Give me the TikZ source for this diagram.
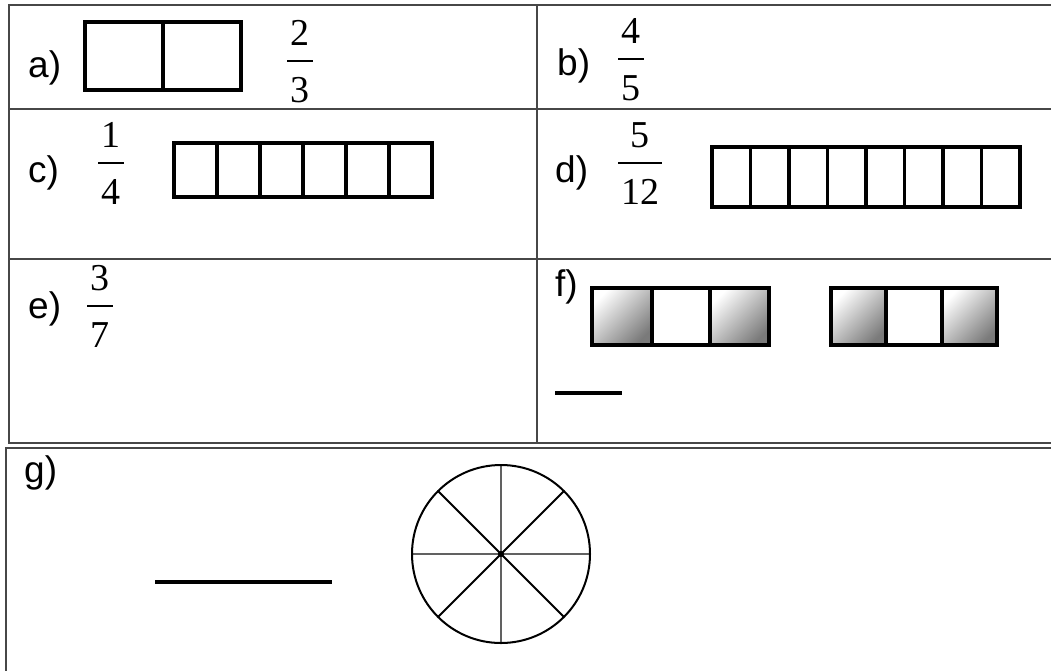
\documentclass[tikz,border=0pt]{standalone}
\usepackage{fontspec}
\setmainfont{Liberation Serif}
\newfontfamily\lblfont{Liberation Sans}
\newcommand\myfrc[6]{%
  \node[dig] (#1n) at (#2,#3-16) {#4};
  \node[dig] (#1d) at (#2,#3+41) {#5};
  \draw[fbar] (#2-#6,#3) -- (#2+#6,#3);}
\begin{document}
\begin{tikzpicture}[x=1pt,y=-1pt,
  lbl/.style={anchor=base west, inner sep=0pt, font=\lblfont\fontsize{37}{40}\selectfont},
  dig/.style={anchor=base, inner sep=0pt, font=\fontsize{38}{42}\selectfont},
  fbar/.style={line width=2pt},
  tabline/.style={draw=black!72, line width=2.2pt},
  cellbox/.style={draw=black, line width=3.2pt},
  shadecell/.style={top color=white, middle color=black!44, bottom color=black!52, shading angle=45},
  blank/.style={line width=3.6pt, line cap=butt},
  spokeg/.style={draw=black!62, line width=2.6pt},
  spokeb/.style={draw=black, line width=2pt}]
\useasboundingbox (0,0) rectangle (1051,670);
\fill[white] (0,0) rectangle (1051,670);
% table frame
\draw[tabline] (1060,5) -- (9,5) -- (9,443) -- (1060,443);
\draw[tabline] (9,109) -- (1060,109);
\draw[tabline] (9,259) -- (1060,259);
\draw[tabline] (537,5) -- (537,443);
\draw[tabline] (1060,448) -- (6,448) -- (6,680);
% a)
\node[lbl] (la) at (28,77) {a)};
\draw[cellbox] (85,22) rectangle (241,90);
\draw[cellbox] (163,22) -- (163,90);
\myfrc{fa}{300}{61}{2}{3}{13}
% b)
\node[lbl] (lb) at (557,75) {b)};
\myfrc{fb}{631}{59}{4}{5}{13}
% c)
\node[lbl] (lc) at (28,182) {c)};
\myfrc{fc}{111}{163}{1}{4}{13}
\draw[cellbox] (174,143) rectangle (432,197);
\foreach \i in {1,...,5} \draw[cellbox] (174+43*\i,143) -- (174+43*\i,197);
% d)
\node[lbl] (ld) at (555,182) {d)};
\myfrc{fd}{640}{163}{5}{12}{22}
\draw[cellbox] (712,147) rectangle (1020,207);
\foreach \i in {1,...,7} \draw[cellbox] (712+38.5*\i,147) -- (712+38.5*\i,207);
% e)
\node[lbl] (le) at (28,318) {e)};
\myfrc{fe}{100}{306}{3}{7}{13}
% f)
\node[lbl] (lf) at (555,296) {f)};
\shade[shadecell] (592,288) rectangle (652,345);
\shade[shadecell] (710,288) rectangle (769,345);
\draw[cellbox] (592,288) rectangle (769,345);
\draw[cellbox] (652,288) -- (652,345);
\draw[cellbox] (710,288) -- (710,345);
\shade[shadecell] (831,288) rectangle (886,345);
\shade[shadecell] (942,288) rectangle (997,345);
\draw[cellbox] (831,288) rectangle (997,345);
\draw[cellbox] (886,288) -- (886,345);
\draw[cellbox] (942,288) -- (942,345);
\coordinate (fl1) at (555,393);
\coordinate (fl2) at (622,393);
\draw[blank] (fl1) -- (fl2);
% g)
\node[lbl] (lg) at (24,482) {g)};
\coordinate (gl1) at (155,582);
\coordinate (gl2) at (332,582);
\draw[blank] (gl1) -- (gl2);
\node[circle, inner sep=0pt, minimum size=178] (pie) at (501,554) {};
\draw[spokeg] (pie.north) -- (pie.south);
\draw[spokeg] (pie.west) -- (pie.east);
\draw[spokeb] (pie.45) -- (pie.225);
\draw[spokeb] (pie.135) -- (pie.315);
\draw[black, line width=2pt] (pie.center) circle[radius=89];
\fill[black] (pie.center) circle[radius=3];
\end{tikzpicture}
\end{document}
